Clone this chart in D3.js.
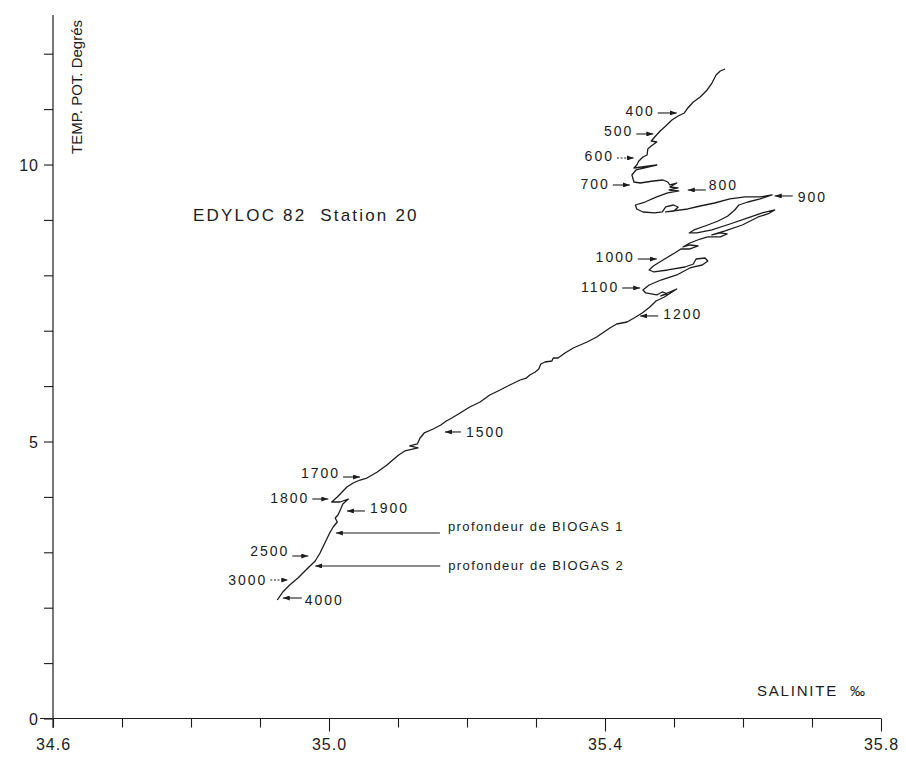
<!DOCTYPE html>
<html>
<head>
<meta charset="utf-8">
<script src="https://cdn.jsdelivr.net/npm/d3@7"></script>
<style>
  html, body { margin: 0; padding: 0; background: #ffffff; }
  svg { display: block; }
  text { font-family: "Liberation Sans", Arial, Helvetica, sans-serif; fill: #1c1c1c; white-space: pre; }
</style>
</head>
<body>
<svg id="chart" width="906" height="757"></svg>
<script>
// Potential temperature / salinity profile, EDYLOC 82, station 20 (surface to bottom)
const salinity = [
  35.574, 35.567, 35.561, 35.555, 35.548, 35.538, 35.528, 35.520, 35.515, 35.506,
  35.497, 35.488, 35.480, 35.472, 35.467, 35.475, 35.467, 35.462, 35.461, 35.455,
  35.449, 35.446, 35.442, 35.475, 35.445, 35.439, 35.442, 35.451, 35.470, 35.484,
  35.491, 35.494, 35.504, 35.494, 35.506, 35.493, 35.507, 35.491, 35.475, 35.458,
  35.444, 35.446, 35.455, 35.472, 35.483, 35.488, 35.499, 35.506, 35.500, 35.488,
  35.520, 35.538, 35.559, 35.581, 35.603, 35.625, 35.642, 35.625, 35.607, 35.594,
  35.588, 35.578, 35.564, 35.545, 35.529, 35.522, 35.533, 35.555, 35.581, 35.607,
  35.628, 35.646, 35.636, 35.622, 35.599, 35.574, 35.555, 35.567, 35.577, 35.567,
  35.549, 35.538, 35.523, 35.513, 35.523, 35.535, 35.523, 35.510, 35.501, 35.484,
  35.470, 35.464, 35.471, 35.491, 35.516, 35.528, 35.532, 35.545, 35.549, 35.541,
  35.529, 35.523, 35.504, 35.481, 35.464, 35.455, 35.459, 35.475, 35.483, 35.490,
  35.481, 35.504, 35.486, 35.474, 35.465, 35.454, 35.442, 35.432, 35.417, 35.407,
  35.388, 35.374, 35.354, 35.342, 35.332, 35.325, 35.323, 35.313, 35.307, 35.304,
  35.299, 35.291, 35.286, 35.277, 35.262, 35.248, 35.233, 35.219, 35.204, 35.190,
  35.178, 35.170, 35.162, 35.151, 35.138, 35.132, 35.128, 35.117, 35.129, 35.110,
  35.101, 35.094, 35.084, 35.070, 35.055, 35.045, 35.035, 35.026, 35.019, 35.012,
  35.004, 35.016, 35.028, 35.020, 35.017, 35.013, 35.009, 35.012, 35.006, 35.001,
  34.994, 34.987, 34.980, 34.968, 34.955, 34.943, 34.933, 34.925
];
const potentialTemp = [
  11.724, 11.688, 11.616, 11.471, 11.345, 11.219, 11.128, 11.020, 10.930, 10.876,
  10.804, 10.695, 10.605, 10.497, 10.424, 10.406, 10.334, 10.280, 10.172, 10.136,
  10.064, 9.991, 9.937, 9.991, 9.901, 9.811, 9.684, 9.666, 9.702, 9.720,
  9.684, 9.630, 9.666, 9.594, 9.576, 9.540, 9.522, 9.486, 9.414, 9.323,
  9.269, 9.197, 9.143, 9.125, 9.143, 9.233, 9.269, 9.233, 9.161, 9.143,
  9.197, 9.251, 9.305, 9.378, 9.414, 9.414, 9.450, 9.378, 9.323, 9.269,
  9.179, 9.071, 8.980, 8.890, 8.818, 8.764, 8.764, 8.818, 8.926, 9.035,
  9.125, 9.179, 9.107, 9.053, 8.908, 8.800, 8.728, 8.764, 8.746, 8.692,
  8.692, 8.655, 8.583, 8.511, 8.547, 8.529, 8.475, 8.475, 8.403, 8.276,
  8.168, 8.096, 8.060, 8.096, 8.150, 8.204, 8.294, 8.312, 8.258, 8.186,
  8.150, 8.132, 8.006, 7.915, 7.825, 7.735, 7.681, 7.645, 7.699, 7.663,
  7.627, 7.753, 7.609, 7.536, 7.428, 7.320, 7.229, 7.157, 7.121, 7.049,
  6.887, 6.796, 6.688, 6.598, 6.507, 6.507, 6.453, 6.435, 6.399, 6.309,
  6.255, 6.200, 6.146, 6.110, 6.020, 5.930, 5.840, 5.713, 5.623, 5.515,
  5.424, 5.370, 5.298, 5.226, 5.154, 5.063, 4.955, 4.919, 4.883, 4.829,
  4.756, 4.684, 4.576, 4.450, 4.341, 4.305, 4.251, 4.179, 4.089, 3.998,
  3.908, 3.908, 3.962, 3.872, 3.782, 3.673, 3.619, 3.547, 3.457, 3.348,
  3.168, 2.987, 2.843, 2.699, 2.536, 2.410, 2.283, 2.139
];

// Axis ticks and labels
const xTickValues = [34.6, 34.7, 34.8, 34.9, 35.0, 35.1, 35.2, 35.3, 35.4, 35.5, 35.6, 35.7, 35.8];
const xTickLabels = ["34.6", "35.0", "35.4", "35.8"];
const yTickValues = [0, 1, 2, 3, 4, 5, 6, 7, 8, 9, 10, 11, 12];
const yTickLabels = ["0", "5", "10"];

// Depth markers (m): label and the (salinity, temperature) point the arrow points at
const depthLabels = ["400", "500", "600", "700", "800", "900", "1000", "1100", "1200",
                     "1500", "1700", "1800", "1900", "2500", "3000", "4000"];
const depthSal  = [35.504, 35.470, 35.442, 35.436, 35.520, 35.646, 35.475, 35.451, 35.451,
                   35.168, 35.045, 34.999, 35.026, 34.970, 34.941, 34.933];
const depthTemp = [10.930, 10.551, 10.118, 9.630, 9.540, 9.432, 8.294, 7.771, 7.266,
                   5.172, 4.359, 3.962, 3.746, 2.933, 2.500, 2.175];

// Sampling depths of the two BIOGAS moorings
const biogasLabels = ["profondeur de BIOGAS 1", "profondeur de BIOGAS 2"];
const biogasSal  = [35.010, 34.980];
const biogasTemp = [3.348, 2.753];

// Arrow layout per depth marker: side of the text, arrow length (px), text offset, dotted line
const depthLayout = [
  { side: "left",  len: 19, dy: -2 },
  { side: "left",  len: 17, dy: -3 },
  { side: "left",  len: 17, dy: -2, dotted: true },
  { side: "left",  len: 17, dy: -1 },
  { side: "right", len: 18, dy: -5, gap: 3 },
  { side: "right", len: 18, dy: 1 },
  { side: "left",  len: 19, dy: -2 },
  { side: "left",  len: 18, dy: -1 },
  { side: "right", len: 18, dy: -2 },
  { side: "right", len: 16, dy: 0 },
  { side: "left",  len: 17, dy: -4 },
  { side: "left",  len: 16, dy: -1 },
  { side: "right", len: 18, dy: -3 },
  { side: "left",  len: 16, dy: -5 },
  { side: "left",  len: 18, dy: 0, dotted: true },
  { side: "right", len: 19, dy: 2, gap: 3 }
];
const biogasLayout = [
  { side: "right", len: 104, dy: -7, gap: 8 },
  { side: "right", len: 125, dy: -1, gap: 8 }
];

const svg = d3.select("#chart");
const ink = "#1c1c1c";

const x = d3.scaleLinear().domain([34.6, 35.8]).range([53, 881]);
const y = d3.scaleLinear().domain([0, 12]).range([718.5, 53.7]);

// arrowhead
svg.append("defs").append("marker")
  .attr("id", "head")
  .attr("viewBox", "0 0 7 5")
  .attr("refX", 7).attr("refY", 2.5)
  .attr("markerWidth", 7).attr("markerHeight", 5)
  .attr("markerUnits", "userSpaceOnUse")
  .attr("orient", "auto")
  .append("path").attr("d", "M0,0 L7,2.5 L0,5 Z").attr("fill", ink);

// axis lines
svg.append("line").attr("x1", x(34.6)).attr("x2", x(34.6)).attr("y1", 15).attr("y2", 728)
  .attr("stroke", ink).attr("stroke-width", 1.2);
svg.append("line").attr("x1", 40).attr("x2", x(35.8)).attr("y1", y(0)).attr("y2", y(0))
  .attr("stroke", ink).attr("stroke-width", 1.2);

// x axis ticks and labels
const fmt = d3.format(".1f");
const xAxis = d3.axisBottom(x)
  .tickValues(xTickValues)
  .tickSize(0)
  .tickFormat(d => xTickLabels.includes(fmt(d)) ? fmt(d) : "");
const gx = svg.append("g").attr("transform", `translate(0,${y(0)})`).call(xAxis);
gx.select(".domain").remove();
gx.selectAll(".tick line")
  .attr("y2", d => (xTickLabels.includes(fmt(d)) && d > 34.65) ? 13 : 9)
  .attr("stroke", ink).attr("stroke-width", 1.1);
gx.selectAll(".tick text")
  .attr("y", 20).attr("dy", "0.71em")
  .style("font-family", "'Liberation Sans', Arial, sans-serif")
  .style("font-size", "16px").style("letter-spacing", "1px")
  .attr("fill", ink);

// y axis ticks and labels
const yAxis = d3.axisLeft(y)
  .tickValues(yTickValues)
  .tickSize(0)
  .tickFormat(d => yTickLabels.includes(String(d)) ? String(d) : "");
const gy = svg.append("g").attr("transform", `translate(${x(34.6)},0)`).call(yAxis);
gy.select(".domain").remove();
gy.selectAll(".tick line").attr("x2", -9).attr("stroke", ink).attr("stroke-width", 1.1);
gy.selectAll(".tick text")
  .attr("x", -14).attr("dy", "0.35em")
  .style("font-family", "'Liberation Sans', Arial, sans-serif")
  .style("font-size", "16px").style("letter-spacing", "1px")
  .attr("fill", ink);

// axis titles
svg.append("text")
  .attr("transform", `translate(82,${20}) rotate(-90)`)
  .attr("text-anchor", "end")
  .style("font-size", "15px").style("letter-spacing", "0px")
  .text("TEMP. POT. Degrés");
svg.append("text")
  .attr("x", 757).attr("y", 696)
  .style("font-size", "15px").style("letter-spacing", "1.8px")
  .text("SALINITE  ‰");
svg.append("text")
  .attr("x", 193).attr("y", 221)
  .style("font-size", "17px").style("letter-spacing", "2.2px")
  .text("EDYLOC 82  Station 20");

// T-S curve
const line = d3.line()
  .x(i => x(salinity[i]))
  .y(i => y(potentialTemp[i]))
  .curve(d3.curveLinear);
svg.append("path")
  .attr("d", line(d3.range(salinity.length)))
  .attr("fill", "none")
  .attr("stroke", ink)
  .attr("stroke-width", 1.3)
  .attr("stroke-linejoin", "round");

// annotation arrows with their labels
function annotate(label, s, t, lay, opts) {
  const tx = x(s), ty = y(t);
  const dir = lay.side === "left" ? -1 : 1;
  const tail = tx + dir * lay.len;
  svg.append("line")
    .attr("x1", tail).attr("y1", ty).attr("x2", tx).attr("y2", ty)
    .attr("stroke", ink).attr("stroke-width", 1.1)
    .attr("stroke-dasharray", lay.dotted ? "2,1.6" : null)
    .attr("marker-end", "url(#head)");
  const gap = lay.gap != null ? lay.gap : 5;
  svg.append("text")
    .attr("x", lay.side === "left" ? tail - gap + opts.ls : tail + gap)
    .attr("y", ty + lay.dy)
    .attr("dy", "0.36em")
    .attr("text-anchor", lay.side === "left" ? "end" : "start")
    .style("font-size", opts.size + "px")
    .style("letter-spacing", opts.ls + "px")
    .text(label);
}
depthLabels.forEach((lab, i) =>
  annotate(lab, depthSal[i], depthTemp[i], depthLayout[i], { size: 14, ls: 2 }));
biogasLabels.forEach((lab, i) =>
  annotate(lab, biogasSal[i], biogasTemp[i], biogasLayout[i], { size: 13, ls: 1.4 }));
</script>
</body>
</html>
